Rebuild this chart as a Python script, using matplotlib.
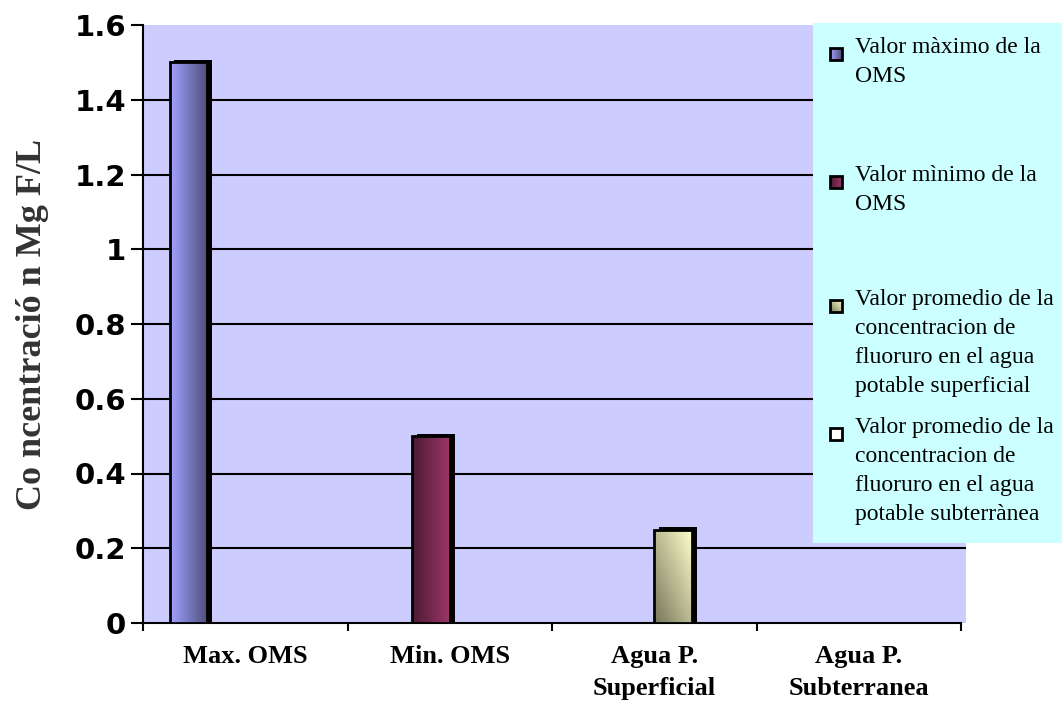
import numpy as np
import matplotlib.pyplot as plt
import matplotlib.colors as mcolors
from matplotlib.patches import Rectangle

# chart data
categories = ['Max. OMS', 'Min. OMS', 'Agua P.\nSuperficial', 'Agua P.\nSubterranea']
values = [1.5, 0.5, 0.25, 0.0]
series_labels = ['Valor màximo de la\nOMS',
                 'Valor mìnimo de la\nOMS',
                 'Valor promedio de la\nconcentracion de\nfluoruro en el agua\npotable superficial',
                 'Valor promedio de la\nconcentracion de\nfluoruro en el agua\npotable subterrànea']
yticks = [0, 0.2, 0.4, 0.6, 0.8, 1.0, 1.2, 1.4, 1.6]
ytick_labels = ['0', '0.2', '0.4', '0.6', '0.8', '1', '1.2', '1.4', '1.6']
ylabel = 'Co ncentració n Mg F/L'

# gradient ends (dark/light) and direction for each series
grad_colors = [('#a2a2ff', '#4e4e7c', 'h'),
               ('#4a1a34', '#9c3567', 'h'),
               ('#76765a', '#ffffcc', 'd'),
               ('#ffffff', '#ffffff', 'h')]


def gradient(c0, c1, mode, n=64):
    c0 = np.array(mcolors.to_rgb(c0))
    c1 = np.array(mcolors.to_rgb(c1))
    s = np.linspace(0, 1, n)
    if mode == 'd':
        t = (s[None, :] + s[:, None]) / 2
    else:
        t = np.tile(s, (n, 1))
    return c0 + (c1 - c0) * t[..., None]


fig = plt.figure(figsize=(10.62, 7.06), dpi=100)
ax = fig.add_axes([143 / 1062, 83 / 706, 823 / 1062, 598 / 706])
ax.set_facecolor('#ccccff')

n_series = len(values)
width = 0.185
offsets = (np.arange(n_series) - (n_series - 1) / 2) * width
dx, dy = 0.024, 0.006

for i, v in enumerate(values):
    x = i + offsets[i]
    c0, c1, mode = grad_colors[i]
    # depth face behind the bar
    if v > 0:
        ax.bar(x + dx, v + dy, width, color='black', zorder=2)
    b = ax.bar(x, v, width, facecolor='none', edgecolor='black', lw=2, zorder=4)[0]
    if v > 0:
        im = ax.imshow(gradient(c0, c1, mode), extent=(x - width / 2, x + width / 2, 0, v),
                       origin='lower', aspect='auto', zorder=3, interpolation='bilinear')
        im.set_clip_path(b)

# horizontal grid lines
ax.hlines(yticks[1:-1], -0.5, 3.5 + 5 / 204.5, colors='black', lw=1.5, zorder=1)

ax.set_xlim(-0.5, 3.5 + 5 / 204.5)
ax.set_ylim(0, 1.6)

for s in ['top', 'right']:
    ax.spines[s].set_visible(False)
for s in ['left', 'bottom']:
    ax.spines[s].set_linewidth(1.5)
ax.spines['bottom'].set_bounds(-0.5, 3.5)

ax.set_yticks(yticks)
ax.set_yticklabels(ytick_labels, fontsize=21, fontweight='bold', family='DejaVu Sans')
ax.tick_params(axis='y', direction='out', length=9, width=1.5, pad=3)

ax.set_xticks(np.arange(len(categories) + 1) - 0.5)
ax.set_xticklabels([])
ax.tick_params(axis='x', which='major', direction='out', length=6, width=1.5)
ax.set_xticks(np.arange(len(categories)), minor=True)
ax.set_xticklabels(categories, minor=True, fontsize=19, fontweight='bold',
                   family='Liberation Serif', linespacing=1.5)
ax.tick_params(axis='x', which='minor', length=0, pad=16)

fig.text(33 / 1062, 0.54, ylabel, rotation=90, ha='center', va='center',
         fontsize=26, fontweight='bold', family='Liberation Serif', color='#333333')

# legend box drawn by hand
lax = fig.add_axes([813 / 1062, (706 - 543) / 706, 249 / 1062, 520 / 706])
lax.set_axis_off()
lax.add_patch(Rectangle((0, 0), 1, 1, transform=lax.transAxes, fc='#ccffff', ec='none', zorder=0))
marker_y = [31, 159, 283, 411]
for i, lab in enumerate(series_labels):
    c0, c1, mode = grad_colors[i]
    y = marker_y[i]
    lax.imshow(gradient(c0, c1, mode), extent=(17, 29, y + 6, y - 6),
               origin='upper' if mode == 'h' else 'lower', aspect='auto', zorder=2)
    lax.add_patch(Rectangle((17, y - 6), 12, 12, fc='none', ec='black', lw=2, zorder=3))
    lax.text(42, y - 17, lab, ha='left', va='top', fontsize=17,
             family='Liberation Serif', linespacing=1.5, zorder=3)
lax.set_xlim(0, 249)
lax.set_ylim(520, 0)

fig.savefig('out.png', dpi=100)
